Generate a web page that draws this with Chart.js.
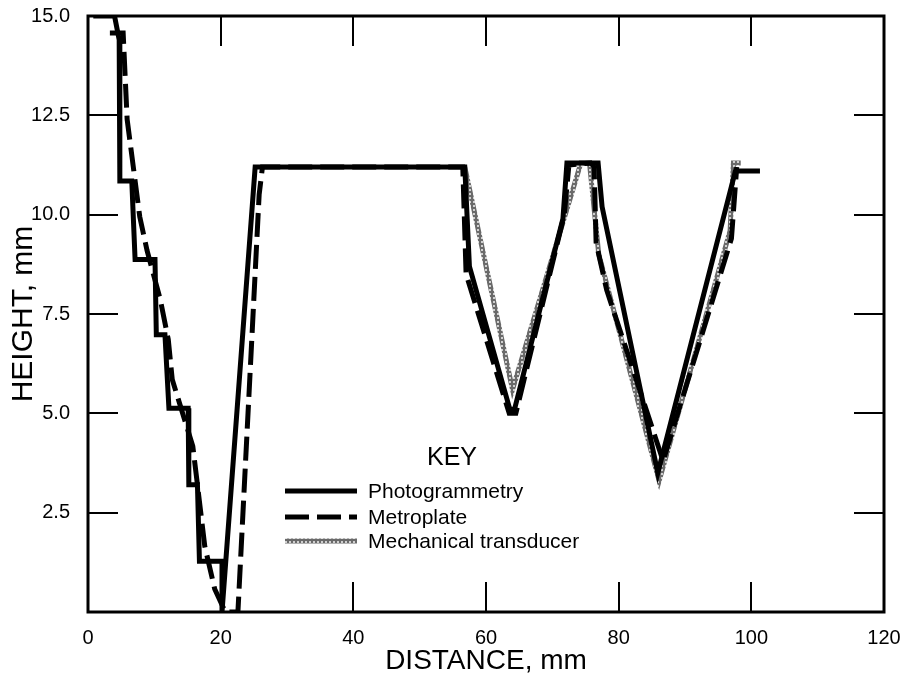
<!DOCTYPE html>
<html>
<head>
<meta charset="utf-8">
<script src="https://cdn.jsdelivr.net/npm/chart.js@4.4.1/dist/chart.umd.min.js"></script>
<style>
  html, body { margin: 0; padding: 0; background: #fff; }
  canvas { display: block; }
</style>
</head>
<body>
<canvas id="profileChart" width="907" height="681"></canvas>
<script>
// Photogrammetry profile (distance mm, height mm)
const photoX = [0.8, 4.0, 4.7, 4.8, 6.6, 7.1, 10.1, 10.3, 11.6, 12.2, 15.1, 15.2, 16.5, 16.8, 20.2, 20.2, 25.2, 56.8, 57.5, 63.6, 64.3, 71.6, 72.2, 76.9, 77.5, 85.9, 97.6, 101.3];
const photoY = [15.0, 15.0, 14.4, 10.85, 10.85, 8.87, 8.87, 6.98, 6.98, 5.13, 5.13, 3.2, 3.2, 1.28, 1.28, 0.0, 11.2, 11.2, 8.7, 5.1, 5.1, 9.9, 11.3, 11.3, 10.2, 3.5, 11.1, 11.1];

// Metroplate profile
const metroX = [3.3, 5.3, 5.9, 7.8, 8.9, 10.9, 12.1, 12.7, 15.8, 16.4, 17.6, 19.1, 20.7, 22.6, 25.8, 26.3, 56.5, 57.0, 63.5, 64.5, 71.8, 72.5, 75.8, 76.3, 76.6, 78.2, 86.7, 97.0, 97.8];
const metroY = [14.57, 14.57, 12.4, 9.95, 9.1, 7.86, 6.86, 5.85, 4.17, 3.34, 1.66, 0.58, 0.0, 0.0, 10.5, 11.2, 11.2, 8.5, 5.0, 5.0, 10.0, 11.25, 11.3, 11.2, 9.3, 8.1, 3.8, 9.4, 11.2];

// Mechanical transducer profile
const mechX = [56.8, 64.0, 74.3, 75.6, 77.0, 86.1, 96.8, 97.3, 98.4];
const mechY = [11.2, 5.6, 11.3, 11.3, 9.0, 3.3, 9.6, 11.3, 11.3];

const xTicks = [0, 20, 40, 60, 80, 100, 120];
const yTicks = [2.5, 5.0, 7.5, 10.0, 12.5, 15.0];

const fontFamily = "'Liberation Sans', Arial, Helvetica, sans-serif";

function toPoints(xs, ys) {
    return xs.map((x, i) => ({ x: x, y: ys[i] }));
}

// speckled grey for the transducer trace
function greyTexture() {
    const c = document.createElement('canvas');
    c.width = 4; c.height = 4;
    const g = c.getContext('2d');
    g.fillStyle = '#6a6a6a';
    g.fillRect(0, 0, 4, 4);
    g.fillStyle = '#d0d0d0';
    g.fillRect(1, 1, 2, 2);
    return g.createPattern(c, 'repeat');
}

// keep the plot box where it is: no extra room for overhanging labels
function noLabelPadding(s) {
    s.paddingTop = 0;
    s.paddingBottom = 0;
    s.paddingLeft = 0;
    s.paddingRight = 0;
}

// box round the plot and inward tick marks on all four sides
const frameTicks = {
    id: 'frameTicks',
    afterDatasetsDraw(chart) {
        const { ctx, chartArea: a, scales } = chart;
        const len = 30;
        ctx.save();
        ctx.strokeStyle = '#000';
        ctx.lineWidth = 2;
        ctx.beginPath();
        xTicks.slice(1, -1).forEach(v => {
            const px = Math.round(scales.x.getPixelForValue(v));
            ctx.moveTo(px, a.top); ctx.lineTo(px, a.top + len);
            ctx.moveTo(px, a.bottom); ctx.lineTo(px, a.bottom - len);
        });
        yTicks.slice(0, -1).forEach(v => {
            const py = Math.round(scales.y.getPixelForValue(v));
            ctx.moveTo(a.left, py); ctx.lineTo(a.left + len, py);
            ctx.moveTo(a.right, py); ctx.lineTo(a.right - len, py);
        });
        ctx.stroke();
        ctx.lineWidth = 3;
        ctx.strokeRect(a.left, a.top, a.right - a.left, a.bottom - a.top);
        ctx.restore();
    }
};

// the "KEY" box inside the plot
const keyLegend = {
    id: 'keyLegend',
    afterDraw(chart) {
        const ctx = chart.ctx;
        ctx.save();
        ctx.fillStyle = '#000';
        ctx.textBaseline = 'middle';
        ctx.textAlign = 'center';
        ctx.font = '25px ' + fontFamily;
        ctx.fillText('KEY', 452, 458);
        ctx.textAlign = 'left';
        ctx.font = '21px ' + fontFamily;
        const rows = [491, 517, 541];
        chart.data.datasets.forEach((ds, i) => {
            const y = rows[i];
            ctx.beginPath();
            ctx.strokeStyle = ds.borderColor;
            ctx.lineWidth = ds.borderWidth;
            ctx.setLineDash(ds.borderDash || []);
            ctx.moveTo(285, y);
            ctx.lineTo(357, y);
            ctx.stroke();
            ctx.setLineDash([]);
            ctx.fillText(ds.label, 368, y + 1);
        });
        ctx.restore();
    }
};

const profileCtx = document.getElementById('profileChart').getContext('2d');
const profileChart = new Chart(profileCtx, {
    type: 'line',
    data: {
        datasets: [{
            label: 'Photogrammetry',
            data: toPoints(photoX, photoY),
            borderColor: '#000',
            borderWidth: 5,
            pointRadius: 0,
            tension: 0,
            fill: false
        }, {
            label: 'Metroplate',
            data: toPoints(metroX, metroY),
            borderColor: '#000',
            borderWidth: 5,
            borderDash: [24, 8],
            pointRadius: 0,
            tension: 0,
            fill: false
        }, {
            label: 'Mechanical transducer',
            data: toPoints(mechX, mechY),
            borderColor: greyTexture(),
            borderWidth: 5,
            pointRadius: 0,
            tension: 0,
            fill: false
        }]
    },
    options: {
        responsive: false,
        animation: false,
        devicePixelRatio: 1,
        layout: { padding: { top: 16, right: 23, left: 0, bottom: 0 } },
        plugins: {
            legend: { display: false },
            tooltip: { enabled: false }
        },
        scales: {
            x: {
                type: 'linear',
                min: 0,
                max: 120,
                afterBuildTicks: s => { s.ticks = xTicks.map(v => ({ value: v })); },
                afterFit: s => { s.height = 69; noLabelPadding(s); },
                grid: { display: false, drawTicks: false },
                border: { display: false },
                ticks: {
                    padding: 14,
                    color: '#000',
                    maxRotation: 0,
                    autoSkip: false,
                    font: { family: fontFamily, size: 20 }
                },
                title: {
                    display: true,
                    text: 'DISTANCE, mm',
                    color: '#000',
                    font: { family: fontFamily, size: 28 },
                    padding: { top: 0, bottom: 3 }
                }
            },
            y: {
                type: 'linear',
                min: 0,
                max: 15,
                afterBuildTicks: s => { s.ticks = yTicks.map(v => ({ value: v })); },
                afterFit: s => { s.width = 88; noLabelPadding(s); },
                grid: { display: false, drawTicks: false },
                border: { display: false },
                ticks: {
                    padding: 18,
                    color: '#000',
                    autoSkip: false,
                    font: { family: fontFamily, size: 20 },
                    callback: v => v.toFixed(1)
                },
                title: {
                    display: true,
                    text: 'HEIGHT, mm',
                    color: '#000',
                    font: { family: fontFamily, size: 30 },
                    padding: { top: 6, bottom: 0 }
                }
            }
        }
    },
    plugins: [frameTicks, keyLegend]
});
</script>
</body>
</html>
